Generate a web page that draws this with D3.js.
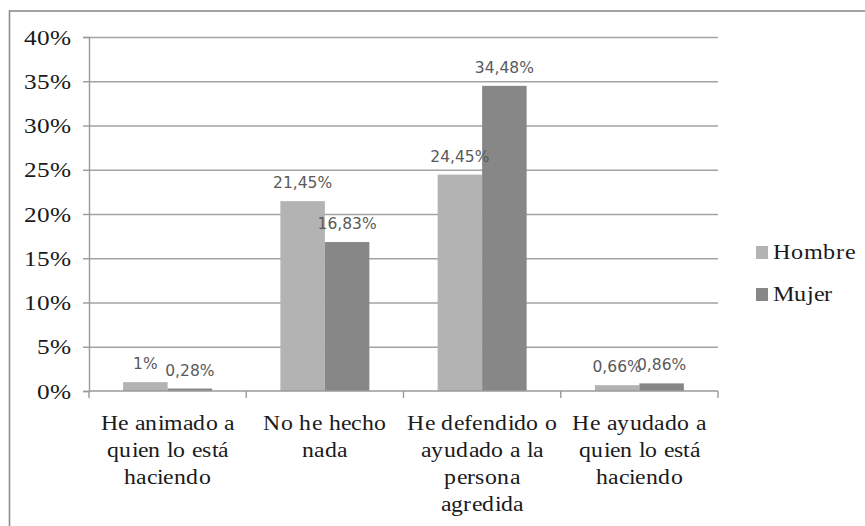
<!DOCTYPE html>
<html>
<head>
<meta charset="utf-8">
<script src="https://cdn.jsdelivr.net/npm/d3@7"></script>
<style>
  @font-face {
    font-family: "RefSerif";
    src: local("Liberation Serif"), local("LiberationSerif"), local("LiberationSerif-Regular"), local("Times New Roman"), local("Tinos");
  }
</style>
</head>
<body style="margin:0">
<svg id="s" width="865" height="526"></svg>
<script>
const categories = [
  ["He animado a", "quien lo está", "haciendo"],
  ["No he hecho", "nada"],
  ["He defendido o", "ayudado a la", "persona", "agredida"],
  ["He ayudado a", "quien lo está", "haciendo"]
];
const seriesNames = ["Hombre", "Mujer"];
const hombre = [1.00, 21.45, 24.45, 0.66];
const mujer = [0.28, 16.83, 34.48, 0.86];
const hombreLabels = ["1%", "21,45%", "24,45%", "0,66%"];
const mujerLabels = ["0,28%", "16,83%", "34,48%", "0,86%"];
const yTicks = [0, 5, 10, 15, 20, 25, 30, 35, 40];
const colors = ["#b3b3b3", "#878787"];

const SERIF = '"RefSerif", "DejaVu Serif", serif';
const SANS = '"DejaVu Sans"';
const svg = d3.select("#s");
const pLeft = 89, pRight = 718, pTop = 37, pBottom = 391;

svg.append("rect")
  .attr("x", 9.5).attr("y", 11).attr("width", 900).attr("height", 600)
  .attr("fill", "none").attr("stroke", "#8c8c8c").attr("stroke-width", 1.6);

const catIdx = categories.map((d, i) => i);
const x0 = d3.scaleBand().domain(catIdx).range([pLeft, pRight]).paddingInner(0).paddingOuter(0);
const x1 = d3.scaleBand().domain(seriesNames).range([0, x0.bandwidth()]).paddingInner(0).paddingOuter(0.767);
const y = d3.scaleLinear().domain([0, 40]).range([pBottom, pTop]);

const grid = svg.append("g").attr("transform", `translate(${pLeft},0)`)
  .call(d3.axisLeft(y).tickValues(yTicks.slice(1)).tickSize(-(pRight - pLeft)).tickFormat(""));
grid.select(".domain").remove();
grid.selectAll("line").attr("stroke", "#a3a3a3").attr("stroke-width", 1.4);

const yAxis = svg.append("g").attr("transform", `translate(${pLeft},0)`)
  .call(d3.axisLeft(y).tickValues(yTicks).tickSize(6).tickFormat(""));
yAxis.select(".domain").attr("stroke", "#9a9a9a").attr("stroke-width", 1.4);
yAxis.selectAll("line").attr("stroke", "#9a9a9a").attr("stroke-width", 1.4);

svg.append("g").selectAll("text").data(yTicks).join("text")
  .attr("transform", d => `translate(71,${y(d) + 7.5}) scale(1.15,1)`)
  .attr("text-anchor", "end")
  .style("font-family", SERIF)
  .style("font-size", "22px")
  .style("fill", "#1a1a1a")
  .text(d => d + "%");

const series = [hombre, mujer];
const labels = [hombreLabels, mujerLabels];
seriesNames.forEach((name, s) => {
  svg.append("g").selectAll("rect").data(series[s]).join("rect")
    .attr("x", (d, i) => x0(i) + x1(name))
    .attr("y", d => y(d))
    .attr("width", x1.bandwidth())
    .attr("height", d => y(0) - y(d))
    .attr("fill", colors[s]);
});

svg.append("line")
  .attr("x1", pLeft).attr("x2", pRight).attr("y1", y(0)).attr("y2", y(0))
  .attr("stroke", "#9a9a9a").attr("stroke-width", 1.4);
const bounds = catIdx.map(i => x0(i)).concat([x0.range()[1]]);
svg.append("g").selectAll("line").data(bounds).join("line")
  .attr("x1", d => d).attr("x2", d => d)
  .attr("y1", y(0)).attr("y2", y(0) + 7)
  .attr("stroke", "#9a9a9a").attr("stroke-width", 1.4);

seriesNames.forEach((name, s) => {
  svg.append("g").selectAll("text").data(series[s]).join("text")
    .attr("x", (d, i) => x0(i) + x1(name) + x1.bandwidth() / 2)
    .attr("y", d => y(d) - 13)
    .attr("text-anchor", "middle")
    .style("font-family", SANS)
    .style("font-size", "15.5px")
    .style("fill", "#5a5a5a")
    .text((d, i) => labels[s][i]);
});

const catLines = [];
categories.forEach((lines, i) => lines.forEach((t, j) => catLines.push({ i, j, t })));
svg.append("g").selectAll("text").data(catLines).join("text")
  .attr("transform", d => `translate(${x0(d.i) + x0.bandwidth() / 2},${429.5 + d.j * 27}) scale(1.08,1)`)
  .attr("text-anchor", "middle")
  .style("font-family", SERIF)
  .style("font-size", "22px")
  .style("fill", "#1a1a1a")
  .text(d => d.t);

const legendY = [259, 301];
svg.append("g").selectAll("rect").data(seriesNames).join("rect")
  .attr("x", 756).attr("y", (d, i) => legendY[i] - 13)
  .attr("width", 12).attr("height", 13)
  .attr("fill", (d, i) => colors[i]);
svg.append("g").selectAll("text").data(seriesNames).join("text")
  .attr("transform", (d, i) => `translate(773,${legendY[i]}) scale(1.15,1)`)
  .style("font-family", SERIF)
  .style("font-size", "21px")
  .style("fill", "#1a1a1a")
  .text(d => d);
</script>
</body>
</html>
